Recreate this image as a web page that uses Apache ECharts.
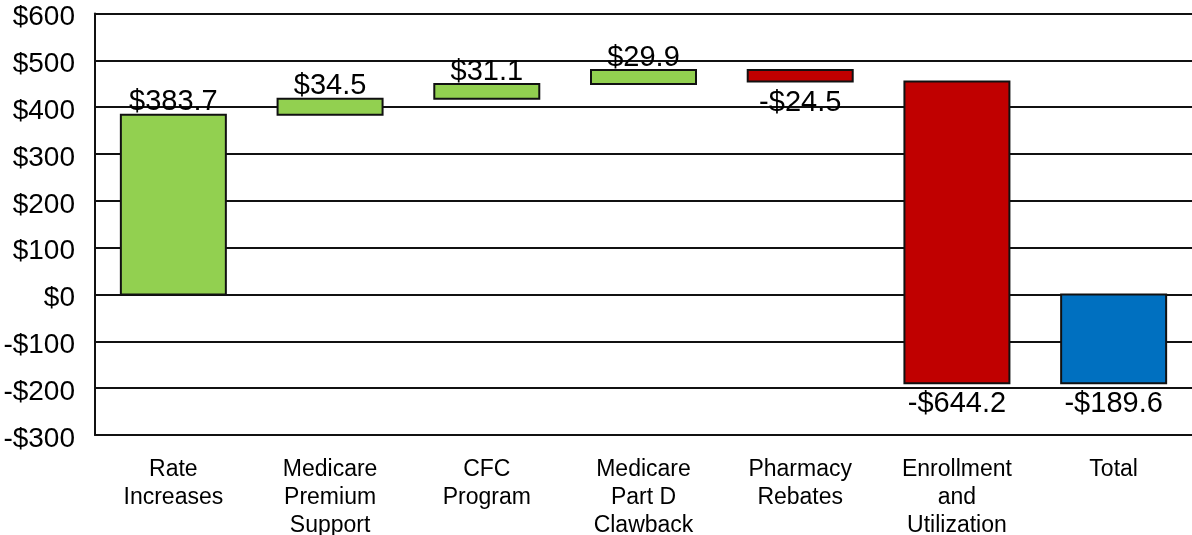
<!DOCTYPE html>
<html>
<head>
<meta charset="utf-8">
<script src="https://cdn.jsdelivr.net/npm/echarts@6/dist/echarts.min.js"></script>
<style>
html,body{margin:0;padding:0;background:#fff;}
#chart{width:1192px;height:535px;}
</style>
</head>
<body>
<div id="chart"></div>
<script>
const categories = ['Rate\nIncreases', 'Medicare\nPremium\nSupport', 'CFC\nProgram', 'Medicare\nPart D\nClawback', 'Pharmacy\nRebates', 'Enrollment\nand\nUtilization', 'Total'];
const changes = [383.7, 34.5, 31.1, 29.9, -24.5, -644.2, -189.6];
const isTotal = [false, false, false, false, false, false, true];
const yTicks = { min: -300, max: 600, interval: 100 };

const FONT = '"Liberation Sans", Arial, sans-serif';
const GREEN = '#92D050', RED = '#C00000', BLUE = '#0070C0';

function fmt(v) {
  return (v < 0 ? '-$' : '$') + Math.abs(v).toFixed(1);
}

// build [index, low, high, change, total?]
const rows = [];
let run = 0;
changes.forEach((c, i) => {
  let start, end;
  if (isTotal[i]) { start = 0; end = c; }
  else { start = run; end = run + c; run = end; }
  rows.push([i, Math.min(start, end), Math.max(start, end), c, isTotal[i] ? 1 : 0]);
});

const chart = echarts.init(document.getElementById('chart'), null, { renderer: 'canvas' });
chart.setOption({
  animation: false,
  backgroundColor: '#fff',
  grid: { left: 95, right: 0, top: 13.5, bottom: 100, containLabel: false, outerBoundsMode: 'none' },
  xAxis: {
    type: 'category',
    data: categories,
    axisLine: { show: true, onZero: false, lineStyle: { color: '#111', width: 2 } },
    axisTick: { show: false },
    axisLabel: { fontSize: 23, lineHeight: 28, color: '#000', fontFamily: FONT, margin: 21, interval: 0 },
    splitLine: { show: false }
  },
  yAxis: {
    type: 'value',
    min: yTicks.min, max: yTicks.max, interval: yTicks.interval,
    axisLine: { show: true, lineStyle: { color: '#111', width: 2 } },
    axisTick: { show: false },
    axisLabel: {
      color: '#000', margin: 20,
      formatter: v => '{a|' + (v < 0 ? '-$' : '$') + Math.abs(v) + '}',
      rich: { a: { fontSize: 28, fontFamily: FONT, color: '#000', padding: [8, 0, 0, 0] } }
    },
    splitLine: { show: true, lineStyle: { color: '#111', width: 2 } }
  },
  series: [{
    type: 'custom',
    data: rows,
    encode: { x: 0, y: [1, 2] },
    renderItem: function (params, api) {
      const i = api.value(0), lo = api.value(1), hi = api.value(2), c = api.value(3), tot = api.value(4);
      const top = api.coord([i, hi]);
      const bot = api.coord([i, lo]);
      const bw = api.size([1, 0])[0] * 0.67;
      const color = tot ? BLUE : (c >= 0 ? GREEN : RED);
      const children = [{
        type: 'rect',
        shape: { x: top[0] - bw / 2, y: top[1], width: bw, height: bot[1] - top[1] },
        style: { fill: color, stroke: '#111', lineWidth: 2 }
      }];
      if (c >= 0) {
        children.push({
          type: 'text',
          style: { text: fmt(c), x: top[0], y: top[1] + 2, align: 'center', verticalAlign: 'bottom', fontSize: 29, fontFamily: FONT, fill: '#000' },
          z2: 10
        });
      } else {
        children.push({
          type: 'text',
          style: { text: fmt(c), x: bot[0], y: bot[1] + 6.5, align: 'center', verticalAlign: 'top', fontSize: 29, fontFamily: FONT, fill: '#000' },
          z2: 10
        });
      }
      return { type: 'group', children: children };
    }
  }]
});
</script>
</body>
</html>
